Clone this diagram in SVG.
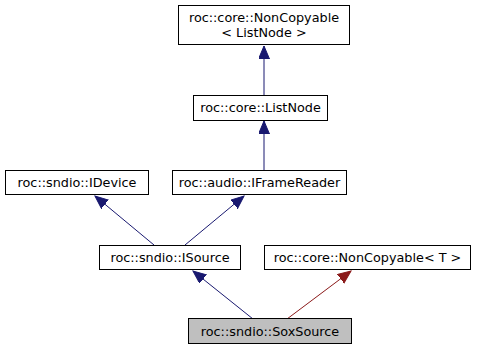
<svg xmlns="http://www.w3.org/2000/svg" width="481" height="351" viewBox="0 0 481 351">
  <style>
    .box { fill: #ffffff; stroke: #000000; stroke-width: 1; }
    .cur { fill: #bfbfbf; stroke: #000000; stroke-width: 1; }
    text { font-family: "DejaVu Sans", "Liberation Sans", sans-serif; font-size: 12.8px; fill: #000000; text-anchor: middle; }
    .pub { stroke: #191970; stroke-width: 1; fill: none; marker-end: url(#headPub); }
    .prv { stroke: #8b1a1a; stroke-width: 1; fill: none; marker-end: url(#headPrv); }
  </style>
  <defs>
    <marker id="headPub" markerUnits="userSpaceOnUse" markerWidth="14" markerHeight="12" refX="13" refY="5.5" orient="auto">
      <path d="M0,0 L13,5.5 L0,11 Z" fill="#191970" stroke="#191970" stroke-width="1"/>
    </marker>
    <marker id="headPrv" markerUnits="userSpaceOnUse" markerWidth="14" markerHeight="12" refX="13" refY="5.5" orient="auto">
      <path d="M0,0 L13,5.5 L0,11 Z" fill="#8b1a1a" stroke="#8b1a1a" stroke-width="1"/>
    </marker>
  </defs>

  <g id="edges">
    <line class="pub" x1="264" y1="95" x2="264" y2="46"/>
    <line class="pub" x1="264" y1="170" x2="264" y2="121"/>
    <line class="pub" x1="154" y1="245" x2="95" y2="196"/>
    <line class="pub" x1="185" y1="245" x2="244" y2="196"/>
    <line class="pub" x1="253" y1="319" x2="193" y2="271"/>
    <line class="prv" x1="287" y1="319" x2="351" y2="271"/>
  </g>

  <g id="node_noncopyable_listnode">
    <rect class="box" x="178.5" y="5.5" width="171" height="39"/>
    <text x="264" y="22">roc::core::NonCopyable</text>
    <text x="264" y="37">&lt; ListNode &gt;</text>
  </g>

  <g id="node_listnode">
    <rect class="box" x="193.5" y="95.5" width="134" height="25"/>
    <text x="260.5" y="112">roc::core::ListNode</text>
  </g>

  <g id="node_idevice">
    <rect class="box" x="5.5" y="170.5" width="143" height="24"/>
    <text x="77" y="187">roc::sndio::IDevice</text>
  </g>

  <g id="node_iframereader">
    <rect class="box" x="172.5" y="170.5" width="174" height="24"/>
    <text x="259.5" y="187">roc::audio::IFrameReader</text>
  </g>

  <g id="node_isource">
    <rect class="box" x="99.5" y="245.5" width="141" height="24"/>
    <text x="170" y="262">roc::sndio::ISource</text>
  </g>

  <g id="node_noncopyable_t">
    <rect class="box" x="264.5" y="245.5" width="206" height="24"/>
    <text x="367.5" y="262">roc::core::NonCopyable&lt; T &gt;</text>
  </g>

  <g id="node_soxsource">
    <rect class="cur" x="188.5" y="318.5" width="163" height="25"/>
    <text x="270" y="336">roc::sndio::SoxSource</text>
  </g>
</svg>
